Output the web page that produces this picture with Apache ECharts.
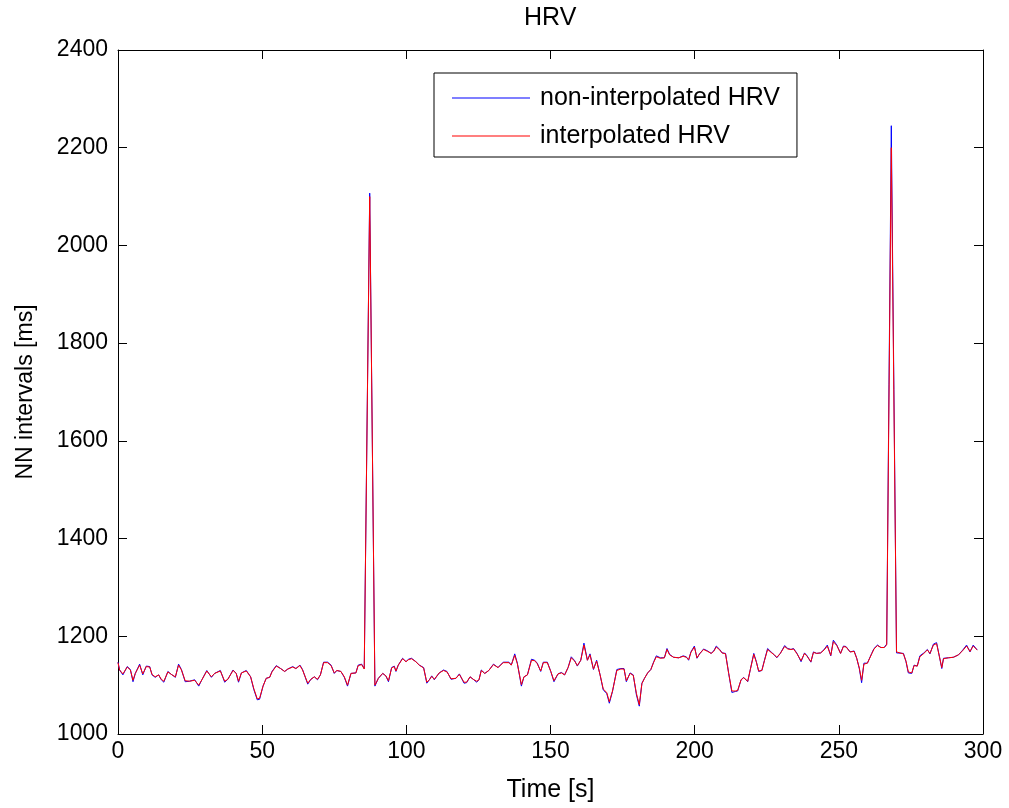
<!DOCTYPE html>
<html>
<head>
<meta charset="utf-8">
<script src="https://cdn.jsdelivr.net/npm/echarts@6/dist/echarts.min.js"></script>
<style>
html,body{margin:0;padding:0;background:#fff;}
#chart{width:1009px;height:808px;}
</style>
</head>
<body>
<div id="chart"></div>
<script>
// Time stamps [s]
var timeS = [0,0.55,1.7,3.2,4.3,5.2,6.0,7.5,8.6,9.8,11,11.8,12.9,14.1,15,15.9,17.3,18.5,19.9,21,22,23.3,24.8,26.6,28,29.1,30.8,32.4,33.5,35.5,37,38.1,39.9,41,41.8,42.8,44.5,46,47.1,48.3,49.1,50.3,51.4,52.6,53.4,54.9,56.4,57.8,58.9,60.6,61.7,63.1,64,65.8,66.9,68.1,69.2,70.2,71.3,72.7,73.9,75,75.9,77.3,78.5,79.6,80.8,82.5,83.3,84.5,85.4,86.0,87.3,89.1,90.3,91.8,92.9,93.8,94.9,95.8,96.4,97.2,98.7,99.9,100.7,101.8,103.3,104.5,106,107.1,108,108.8,109.7,111.4,112.9,114.1,115.5,117.2,118.4,120,120.9,122.1,123.2,124.4,125.2,126,127.2,128.6,130.2,131.8,133.6,135.6,136.4,137.6,138.5,139.9,140.8,142,143.4,144.5,145.4,146.6,147.5,148.9,150.1,151.2,152.6,153.8,154.9,156.1,157.2,158.4,159.3,160.5,161.6,162.8,163.7,164.9,166,167.2,168.3,169.5,170.4,171.5,173,174.4,175.5,176.3,177.6,178.7,179.8,180.8,181.7,182.6,183.7,184.8,185.8,186.7,188.1,189.5,190.4,191.3,192.7,194.5,196,197.1,197.9,198.7,199.9,200.8,201.7,203.1,204.5,205.7,206.6,207.5,208.7,209.5,210.7,211.8,212.9,214.1,214.9,216.1,217,218.4,219.3,220.5,221.4,222.2,223.3,224.2,225.3,226.5,227.6,228.5,229.7,231.2,232.3,233.4,234.3,235.5,236.9,238.1,239,240.3,241.2,242.3,243.7,244.9,246,247.2,248.1,249.3,250.6,251.6,252.5,253.9,255.3,256.2,257.1,257.9,258.7,259.9,261.4,262.2,263.4,264.6,265.7,266.6,268.2,270,272.4,273.3,274.1,275.3,276.1,277.2,278.1,279.5,280.7,281.6,282.8,283.9,284.9,285.7,286.3,288,289.7,291.5,293,294.3,295.5,296.6,298];

// Non-interpolated NN intervals [ms]
var nnRaw = [1147,1131,1121,1138,1132,1107,1124,1143,1121,1139,1138,1121,1116,1121,1111,1106,1128,1122,1116,1143,1132,1107,1108,1111,1098,1111,1130,1116,1124,1130,1106,1112,1131,1124,1106,1125,1130,1117,1091,1070,1071,1098,1114,1116,1128,1140,1134,1128,1133,1138,1134,1141,1132,1102,1112,1117,1111,1121,1147,1147,1141,1124,1130,1128,1116,1098,1124,1125,1141,1143,1134,1130,2107,1098,1114,1124,1119,1107,1136,1139,1128,1141,1155,1148,1153,1155,1148,1141,1136,1104,1111,1119,1111,1125,1131,1128,1112,1114,1123,1104,1105,1117,1112,1106,1111,1131,1124,1130,1143,1136,1147,1147,1141,1164,1145,1098,1117,1121,1153,1151,1145,1128,1147,1147,1128,1107,1123,1126,1121,1136,1158,1150,1139,1151,1186,1151,1164,1132,1151,1121,1090,1083,1063,1087,1132,1134,1134,1107,1125,1121,1080,1057,1104,1114,1125,1132,1148,1160,1156,1156,1175,1163,1157,1156,1160,1158,1151,1168,1180,1155,1164,1174,1170,1165,1170,1180,1173,1166,1165,1124,1085,1087,1088,1111,1116,1107,1132,1165,1148,1128,1130,1151,1175,1168,1162,1156,1165,1181,1175,1173,1175,1165,1148,1166,1160,1147,1168,1165,1166,1173,1182,1160,1192,1182,1165,1180,1179,1168,1170,1155,1134,1105,1145,1145,1165,1175,1182,1177,1177,1184,2245,1166,1165,1148,1125,1124,1141,1139,1160,1166,1173,1164,1184,1187,1158,1134,1155,1156,1157,1162,1172,1182,1168,1182,1172];

// Interpolated NN intervals [ms]
var nnInterp = [1146,1131,1123,1137,1131,1110,1124,1141,1123,1138,1137,1122,1117,1121,1112,1108,1127,1122,1117,1141,1131,1109,1108,1110,1100,1111,1129,1117,1124,1129,1108,1112,1130,1124,1108,1125,1129,1117,1093,1072,1073,1098,1114,1116,1127,1139,1134,1128,1133,1137,1134,1140,1131,1104,1112,1117,1112,1121,1146,1146,1140,1125,1130,1128,1117,1100,1124,1125,1140,1142,1133,1130,2100,1100,1114,1124,1119,1109,1135,1138,1129,1141,1154,1148,1152,1154,1148,1141,1135,1106,1111,1118,1112,1125,1130,1127,1113,1114,1122,1106,1106,1117,1112,1108,1111,1130,1124,1130,1142,1136,1146,1146,1141,1161,1144,1101,1117,1121,1151,1150,1144,1129,1146,1146,1128,1109,1123,1125,1121,1136,1156,1149,1140,1151,1182,1151,1162,1133,1149,1121,1092,1085,1066,1088,1130,1133,1133,1109,1124,1120,1083,1060,1103,1114,1125,1132,1147,1158,1155,1156,1173,1162,1157,1156,1159,1157,1152,1167,1178,1156,1164,1173,1169,1165,1169,1178,1172,1166,1164,1124,1088,1088,1089,1111,1115,1108,1132,1163,1147,1129,1130,1150,1173,1167,1162,1157,1165,1179,1174,1173,1174,1164,1150,1165,1159,1148,1167,1165,1166,1172,1180,1161,1189,1181,1165,1179,1178,1168,1169,1155,1135,1110,1143,1145,1164,1174,1181,1177,1177,1182,2200,1168,1164,1149,1127,1125,1140,1139,1158,1165,1172,1165,1182,1185,1158,1136,1154,1156,1157,1162,1171,1180,1169,1180,1172];

var xTicks = [0,50,100,150,200,250,300];
var yTicks = [1000,1200,1400,1600,1800,2000,2200,2400];

function pairs(t, v){ var out=[]; for(var i=0;i<t.length;i++){ out.push([t[i], v[i]]); } return out; }

var FONT = 'Liberation Sans, Arial, Helvetica, sans-serif';
var chart = echarts.init(document.getElementById('chart'), null, {renderer:'canvas'});
var axisLineStyle = {color:'#000', width:1};
chart.setOption({
  animation:false,
  backgroundColor:'#fff',
  title:{text:'HRV', left:524, top:6, padding:0,
    textStyle:{fontFamily:FONT, fontSize:25, fontWeight:'normal', color:'#000'}},
  grid:{left:118, right:26, top:50, bottom:74, containLabel:false},
  legend:{
    orient:'vertical', left:434, top:73,
    data:['non-interpolated HRV','interpolated HRV'],
    icon:'rect',
    itemWidth:78, itemHeight:1, itemGap:10,
    padding:[11,17,7,18],
    borderColor:'#000', borderWidth:1, backgroundColor:'#fff', borderRadius:0,
    textStyle:{fontFamily:FONT, fontSize:25, color:'#000', lineHeight:28, padding:[0,0,0,5]}
  },
  xAxis:[{
    type:'value', min:0, max:300, interval:50,
    name:'Time [s]', nameLocation:'middle', nameGap:44,
    nameTextStyle:{fontFamily:FONT, fontSize:25, color:'#000'},
    axisLine:{show:true, onZero:false, lineStyle:axisLineStyle},
    axisTick:{show:true, inside:true, length:9, lineStyle:axisLineStyle},
    axisLabel:{fontFamily:FONT, fontSize:23, color:'#000', margin:6,
      formatter:function(v){ return xTicks.indexOf(v)>=0 ? String(v) : ''; }},
    splitLine:{show:false}
  },{
    type:'value', min:0, max:300, interval:50, position:'top',
    axisLine:{show:true, onZero:false, lineStyle:axisLineStyle},
    axisTick:{show:true, inside:true, length:9, lineStyle:axisLineStyle},
    axisLabel:{show:false}, splitLine:{show:false}
  }],
  yAxis:[{
    type:'value', min:1000, max:2400, interval:200,
    name:'NN intervals [ms]', nameLocation:'middle', nameGap:81,
    nameTextStyle:{fontFamily:FONT, fontSize:23, color:'#000'},
    axisLine:{show:true, onZero:false, lineStyle:axisLineStyle},
    axisTick:{show:true, inside:true, length:9, lineStyle:axisLineStyle},
    axisLabel:{fontFamily:FONT, fontSize:23, color:'#000', margin:10,
      formatter:function(v){ return yTicks.indexOf(v)>=0 ? String(v) : ''; }},
    splitLine:{show:false}
  },{
    type:'value', min:1000, max:2400, interval:200, position:'right',
    axisLine:{show:true, onZero:false, lineStyle:axisLineStyle},
    axisTick:{show:true, inside:true, length:9, lineStyle:axisLineStyle},
    axisLabel:{show:false}, splitLine:{show:false}
  }],
  series:[{
    name:'non-interpolated HRV', type:'line', xAxisIndex:0, yAxisIndex:0,
    data:pairs(timeS, nnRaw), symbol:'none', showSymbol:false,
    lineStyle:{color:'#0000ff', width:1}, itemStyle:{color:'#0000ff'}
  },{
    name:'interpolated HRV', type:'line', xAxisIndex:0, yAxisIndex:0,
    data:pairs(timeS, nnInterp), symbol:'none', showSymbol:false,
    lineStyle:{color:'#ff0000', width:1}, itemStyle:{color:'#ff0000'}
  }]
});
</script>
</body>
</html>
